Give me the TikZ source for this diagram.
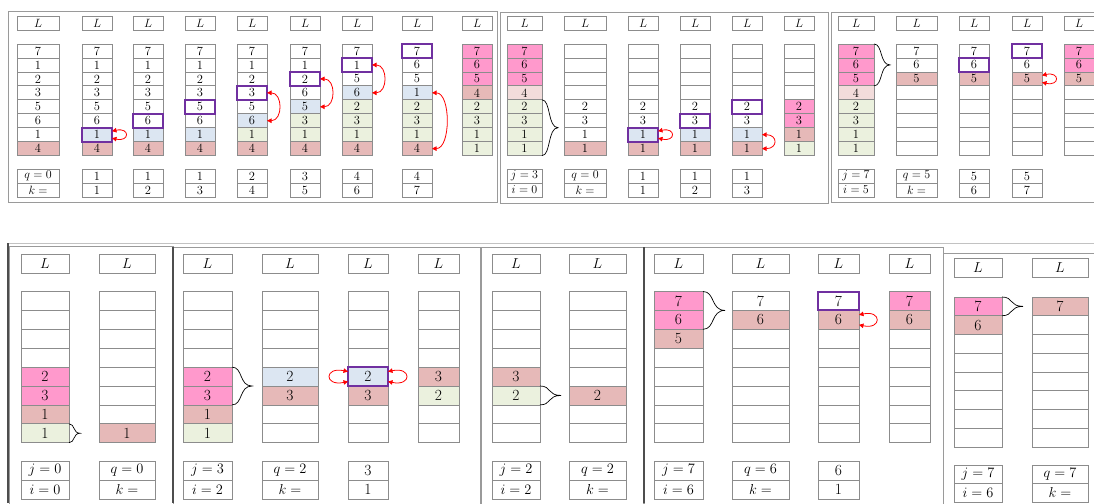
\documentclass[tikz,border=0pt]{standalone}
\usepackage{tikz}
\usetikzlibrary{positioning,arrows.meta,calc}
\definecolor{grid}{HTML}{8C8C8C}
\definecolor{frame}{HTML}{9A9A9A}
\definecolor{dark}{HTML}{4D4D4D}
\definecolor{hot}{HTML}{FF99CC}
\definecolor{rose}{HTML}{E6B9B8}
\definecolor{blush}{HTML}{F2DCDB}
\definecolor{sky}{HTML}{DCE6F2}
\definecolor{sage}{HTML}{EBF1DE}
\definecolor{hl}{HTML}{7030A0}
\colorlet{w}{white}

% one column: name, left x, width, cells top to bottom (value/fill)
\newcommand\stk[4]{%
  \node[lbox,minimum width=#3] (#1-L) at (#2,\Ly) {$L$};
  \foreach \v/\f [count=\r] in {#4}
    \node[cell,minimum width=#3,fill=\f] (#1-\r) at (#2,{\Cy+(\r-1)*\Ch}) {\v};
}
% the two counters under a column
\newcommand\cnt[5]{%
  \node[cbox,minimum width=#3] (#1-q) at (#2,\By) {#4};
  \node[cbox,minimum width=#3] (#1-k) at (#2,\By+\Bh) {#5};
}
% curly brace from first to last cell, amplitude
\newcommand\brc[3]{%
  \draw[curl] (#1.north east)
    .. controls ($(#1.north east)+(0.55*#3,0)$) and ($(#1.north east)!.5!(#2.south east)+(0.35*#3,0)$)
    .. ($(#1.north east)!.5!(#2.south east)+(#3,0)$)
    .. controls ($(#1.north east)!.5!(#2.south east)+(0.35*#3,0)$) and ($(#2.south east)+(0.55*#3,0)$)
    .. (#2.south east);
}

\begin{document}
\begin{tikzpicture}[
  x=1pt, y=-1pt,
  cell/.style={draw=grid,line width=0.75pt,anchor=north west,inner sep=0pt,
               outer sep=0pt,minimum height=\Ch},
  lbox/.style={cell,minimum height=\Lh},
  cbox/.style={cell,minimum height=\Bh},
  pick/.style={draw=hl,line width=2pt},
  swap/.style={red,line width=0.8pt,
               {Triangle[length=4.5pt,width=4.5pt]}-{Triangle[length=4.5pt,width=4.5pt]}},
  curl/.style={black,line width=0.7pt},
  box/.style={draw=frame,line width=1pt},
]
\useasboundingbox (0,0) rectangle (1094,503);
\clip (0,0) rectangle (1094,503);

% ---------------------------------------------------------------- frames
\draw[box] (8,12) rectangle (497,202);
\draw[box] (500,13) rectangle (828,203);
\draw[box] (831,13) rectangle (1110,202);
\draw[draw=frame!60,line width=0.8pt] (8,243) -- (1094,243);
\draw[box] (9,246) rectangle (173,520);
\draw[box] (173,247) rectangle (480,520);
\draw[box] (481,247) rectangle (643,520);
\draw[box] (644,247) rectangle (943,520);
\draw[box] (943,253) rectangle (1110,520);
\draw[dark,line width=1.6pt] (8,243) -- (8,503);
\draw[dark,line width=1.2pt] (173,247) -- (173,503);
\draw[dark,line width=1.2pt] (644,247) -- (644,503);

% ---------------------------------------------------------------- top row
\begin{scope}[font=\fontsize{12.5}{14}\selectfont]
\def\Ly{16}\def\Lh{14}\def\Cy{44}\def\Ch{13.95}\def\By{169}\def\Bh{14}

% first pass
\stk{a1}{17}{42}{7/w,1/w,2/w,3/w,5/w,6/w,1/w,4/rose}
\cnt{a1}{17}{42}{$q=0$}{$k=$}
\stk{a2}{82}{30}{7/w,1/w,2/w,3/w,5/w,6/w,1/sky,4/rose}
\cnt{a2}{82}{30}{1}{1}
\stk{a3}{133}{30}{7/w,1/w,2/w,3/w,5/w,6/w,1/sky,4/rose}
\cnt{a3}{133}{30}{1}{2}
\stk{a4}{185}{30}{7/w,1/w,2/w,3/w,5/w,6/w,1/sky,4/rose}
\cnt{a4}{185}{30}{1}{3}
\stk{a5}{237}{30}{7/w,1/w,2/w,3/w,5/w,6/sky,1/sage,4/rose}
\cnt{a5}{237}{30}{2}{4}
\stk{a6}{290}{30}{7/w,1/w,2/w,6/w,5/sky,3/sage,1/sage,4/rose}
\cnt{a6}{290}{30}{3}{5}
\stk{a7}{342}{30}{7/w,1/w,5/w,6/sky,2/sage,3/sage,1/sage,4/rose}
\cnt{a7}{342}{30}{4}{6}
\stk{a8}{402}{30}{7/w,6/w,5/w,1/sky,2/sage,3/sage,1/sage,4/rose}
\cnt{a8}{402}{30}{4}{7}
\stk{a9}{462}{30}{7/hot,6/hot,5/hot,4/rose,2/sage,3/sage,1/sage,1/sage}

\foreach \c in {a2-7,a3-6,a4-5,a5-4,a6-3,a7-2,a8-1}
  \draw[pick] (\c.north west) rectangle (\c.south east);
\draw[swap] ([yshift=3.5pt]a2-7.east) .. controls +(18,-4) and +(18,4) .. ([yshift=-3.5pt]a2-7.east);
\foreach \i/\j in {a5-4/a5-6,a6-3/a6-5,a7-2/a7-4}
  \draw[swap] (\i.east) .. controls +(16,0) and +(16,0) .. (\j.east);
\draw[swap] (a8-4.east) .. controls +(19,0) and +(19,0) .. (a8-8.east);

% left part, j = 3
\stk{b1}{507}{35}{7/hot,6/hot,5/hot,4/blush,2/sage,3/sage,1/sage,1/sage}
\cnt{b1}{507}{35}{$j=3$}{$i=0$}
\stk{b2}{564}{42}{{}/w,{}/w,{}/w,{}/w,2/w,3/w,1/w,1/rose}
\cnt{b2}{564}{42}{$q=0$}{$k=$}
\stk{b3}{628}{30}{{}/w,{}/w,{}/w,{}/w,2/w,3/w,1/sky,1/rose}
\cnt{b3}{628}{30}{1}{1}
\stk{b4}{680}{30}{{}/w,{}/w,{}/w,{}/w,2/w,3/w,1/sky,1/rose}
\cnt{b4}{680}{30}{1}{2}
\stk{b5}{732}{30}{{}/w,{}/w,{}/w,{}/w,2/w,3/w,1/sky,1/rose}
\cnt{b5}{732}{30}{1}{3}
\stk{b6}{784}{30}{{}/w,{}/w,{}/w,{}/w,2/hot,3/hot,1/rose,1/sage}

\brc{b1-5}{b1-8}{16}
\foreach \c in {b3-7,b4-6,b5-5}
  \draw[pick] (\c.north west) rectangle (\c.south east);
\draw[swap] ([yshift=3.5pt]b3-7.east) .. controls +(18,-4) and +(18,4) .. ([yshift=-3.5pt]b3-7.east);
\draw[swap] (b5-7.east) .. controls +(16,0) and +(16,0) .. (b5-8.east);

% right part, j = 7
\stk{c1}{838}{36}{7/hot,6/hot,5/hot,4/blush,2/sage,3/sage,1/sage,1/sage}
\cnt{c1}{838}{36}{$j=7$}{$i=5$}
\stk{c2}{896}{41}{7/w,6/w,5/rose,{}/w,{}/w,{}/w,{}/w,{}/w}
\cnt{c2}{896}{41}{$q=5$}{$k=$}
\stk{c3}{959}{30}{7/w,6/w,5/rose,{}/w,{}/w,{}/w,{}/w,{}/w}
\cnt{c3}{959}{30}{5}{6}
\stk{c4}{1012}{30}{7/w,6/w,5/rose,{}/w,{}/w,{}/w,{}/w,{}/w}
\cnt{c4}{1012}{30}{5}{7}
\stk{c5}{1064}{30}{7/hot,6/hot,5/rose,{}/w,{}/w,{}/w,{}/w,{}/w}

\brc{c1-1}{c1-3}{16}
\foreach \c in {c3-2,c4-1}
  \draw[pick] (\c.north west) rectangle (\c.south east);
\draw[swap] ([yshift=3.5pt]c4-3.east) .. controls +(18,-4) and +(18,4) .. ([yshift=-3.5pt]c4-3.east);
\end{scope}

% ---------------------------------------------------------------- bottom row
\begin{scope}[font=\fontsize{15.5}{17}\selectfont]
\def\Ly{254}\def\Lh{19}\def\Cy{291.5}\def\Ch{18.9}\def\By{461}\def\Bh{19}

% j = 0
\stk{d1}{21}{48}{{}/w,{}/w,{}/w,{}/w,2/hot,3/hot,1/rose,1/sage}
\cnt{d1}{21}{48}{$j=0$}{$i=0$}
\stk{d2}{99}{56}{{}/w,{}/w,{}/w,{}/w,{}/w,{}/w,{}/w,1/rose}
\cnt{d2}{99}{56}{$q=0$}{$k=$}
\brc{d1-8}{d1-8}{11}

% j = 3
\stk{e1}{183}{49}{{}/w,{}/w,{}/w,{}/w,2/hot,3/hot,1/rose,1/sage}
\cnt{e1}{183}{49}{$j=3$}{$i=2$}
\stk{e2}{262}{56}{{}/w,{}/w,{}/w,{}/w,2/sky,3/rose,{}/w,{}/w}
\cnt{e2}{262}{56}{$q=2$}{$k=$}
\stk{e3}{348}{40}{{}/w,{}/w,{}/w,{}/w,2/sky,3/rose,{}/w,{}/w}
\cnt{e3}{348}{40}{3}{1}
\stk{e4}{418}{41}{{}/w,{}/w,{}/w,{}/w,3/rose,2/sage,{}/w,{}/w}
\brc{e1-5}{e1-6}{20}
\draw[pick] (e3-5.north west) rectangle (e3-5.south east);
\draw[swap] ([yshift=5pt]e3-5.east) .. controls +(24,-5) and +(24,5) .. ([yshift=-5pt]e3-5.east);
\draw[swap] ([yshift=5pt]e3-5.west) .. controls +(-24,-5) and +(-24,5) .. ([yshift=-5pt]e3-5.west);

% j = 2
\stk{f1}{492}{48}{{}/w,{}/w,{}/w,{}/w,3/rose,2/sage,{}/w,{}/w}
\cnt{f1}{492}{48}{$j=2$}{$i=2$}
\stk{f2}{569}{57}{{}/w,{}/w,{}/w,{}/w,{}/w,2/rose,{}/w,{}/w}
\cnt{f2}{569}{57}{$q=2$}{$k=$}
\brc{f1-6}{f1-6}{21}

% j = 7
\stk{g1}{654}{49}{7/hot,6/hot,5/rose,{}/w,{}/w,{}/w,{}/w,{}/w}
\cnt{g1}{654}{49}{$j=7$}{$i=6$}
\stk{g2}{732}{57}{7/w,6/rose,{}/w,{}/w,{}/w,{}/w,{}/w,{}/w}
\cnt{g2}{732}{57}{$q=6$}{$k=$}
\stk{g3}{818}{41}{7/w,6/rose,{}/w,{}/w,{}/w,{}/w,{}/w,{}/w}
\cnt{g3}{818}{41}{6}{1}
\stk{g4}{889}{41}{7/hot,6/rose,{}/w,{}/w,{}/w,{}/w,{}/w,{}/w}
\brc{g1-1}{g1-2}{22}
\draw[pick] (g3-1.north west) rectangle (g3-1.south east);
\draw[swap] ([yshift=5pt]g3-2.east) .. controls +(23,-5) and +(23,5) .. ([yshift=-5pt]g3-2.east);

% j = 7, last
\def\Ly{258}\def\Cy{297}\def\Ch{18.75}\def\By{465}\def\Bh{18.5}
\stk{h1}{954}{48}{7/hot,6/rose,{}/w,{}/w,{}/w,{}/w,{}/w,{}/w}
\cnt{h1}{954}{48}{$j=7$}{$i=6$}
\stk{h2}{1032}{56}{7/rose,{}/w,{}/w,{}/w,{}/w,{}/w,{}/w,{}/w}
\cnt{h2}{1032}{56}{$q=7$}{$k=$}
\brc{h1-1}{h1-1}{21}
\end{scope}

\end{tikzpicture}
\end{document}
